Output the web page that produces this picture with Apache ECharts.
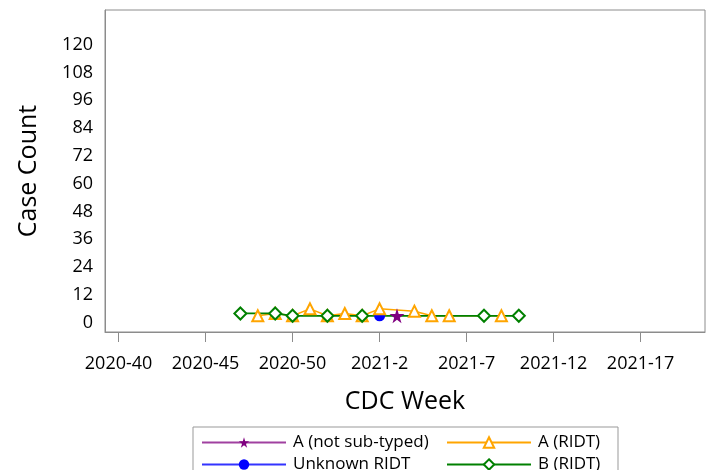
<!DOCTYPE html>
<html><head><meta charset="utf-8">
<script src="https://cdn.jsdelivr.net/npm/echarts@6/dist/echarts.min.js"></script>
<style>html,body{margin:0;padding:0;background:#fff}#c{width:711px;height:470px}</style>
</head><body><div id="c"></div>
<script>
// ---- data ----
const tickLabels = ["2020-40","2020-45","2020-50","2021-2","2021-7","2021-12","2021-17"];
const yTicks = [0,12,24,36,48,60,72,84,96,108,120];

const aNotSubWeeks = ["2021-3"];
const aNotSubCounts = [3];

const unknownWeeks = ["2021-2"];
const unknownCounts = [3];

const aRidtWeeks = ["2020-48","2020-49","2020-50","2020-51","2020-52","2020-53","2021-1","2021-2","2021-4","2021-5","2021-6","2021-9"];
const aRidtCounts = [3,4,3,6,3,4,3,6,5,3,3,3];

const bRidtWeeks = ["2020-47","2020-49","2020-50","2020-52","2021-1","2021-8","2021-10"];
const bRidtCounts = [4,4,3,3,3,3,3];

const seriesNames = ['A (not sub-typed)','Unknown RIDT','A (RIDT)','B (RIDT)'];

// CDC week -> sequential index (2020 has 53 weeks), 2020-40 = 0
function weekIndex(s){
  const p = s.split('-').map(Number);
  return p[0] === 2020 ? p[1] - 40 : (53 - 40) + p[1];
}
function pairs(weeks, counts){ return weeks.map((w,i)=>[weekIndex(w), counts[i]]); }

const FONT = '"Open Sans", "Noto Sans", sans-serif';
const STAR = 'path://M50,0 L61,35 L98,35 L68,57 L79,91 L50,70 L21,91 L32,57 L2,35 L39,35 Z';
const tickVals = tickLabels.map(weekIndex);

const legendPos = [[196,429],[196,451],[441,429],[441,451]];
const legends = seriesNames.map((n,i)=>({
  data:[n], left:legendPos[i][0], top:legendPos[i][1], itemWidth:84, itemHeight:13,
  textStyle:{fontSize:17, color:'#000', fontFamily:FONT, padding:[0,0,0,2]}
}));

const chart = echarts.init(document.getElementById('c'), null, {renderer:'canvas'});
chart.setOption({
  animation:false,
  backgroundColor:'#fff',
  textStyle:{fontFamily:FONT},
  grid:{left:105, right:6, top:10, bottom:138, show:true, borderColor:'#8c8c8c', borderWidth:1, containLabel:false},
  xAxis:{
    type:'value', min:-0.78, max:33.7,
    name:'CDC Week', nameLocation:'middle', nameGap:57,
    nameTextStyle:{fontSize:25, color:'#000', fontFamily:FONT},
    axisLine:{show:true, onZero:false, lineStyle:{color:'#8c8c8c'}},
    axisTick:{show:true, length:10, lineStyle:{color:'#8c8c8c'}, customValues:tickVals},
    axisLabel:{fontSize:18, color:'#000', margin:23, fontFamily:FONT, customValues:tickVals,
      formatter:v=>{ const l = tickLabels.find(t=>weekIndex(t)===v); return l||''; }},
    splitLine:{show:false}
  },
  yAxis:{
    type:'value', min:-4, max:135,
    name:'Case Count', nameLocation:'middle', nameGap:64,
    nameTextStyle:{fontSize:25, color:'#000', fontFamily:FONT},
    axisLine:{show:true, onZero:false, lineStyle:{color:'#8c8c8c'}},
    axisTick:{show:false},
    axisLabel:{fontSize:18, color:'#000', margin:12, fontFamily:FONT, customValues:yTicks},
    splitLine:{show:false}
  },
  graphic:[{type:'rect', shape:{x:193, y:427, width:425, height:60}, style:{fill:'none', stroke:'#999', lineWidth:1}, silent:true}],
  legend:legends,
  series:[
    {name:seriesNames[0], type:'line', data:pairs(aNotSubWeeks,aNotSubCounts), symbol:STAR, symbolSize:15,
     itemStyle:{color:'#800080'}, lineStyle:{color:'#a040a0', width:1.5}},
    {name:seriesNames[1], type:'line', data:pairs(unknownWeeks,unknownCounts), symbol:'circle', symbolSize:11,
     itemStyle:{color:'#0000ff'}, lineStyle:{color:'#3333ff', width:1.5}},
    {name:seriesNames[2], type:'line', data:pairs(aRidtWeeks,aRidtCounts), symbol:'emptyTriangle', symbolSize:11,
     itemStyle:{color:'#ffa500', borderWidth:1.2}, lineStyle:{color:'#ffa500', width:1.5}},
    {name:seriesNames[3], type:'line', data:pairs(bRidtWeeks,bRidtCounts), symbol:'emptyDiamond', symbolSize:12,
     itemStyle:{color:'#008000', borderWidth:1.3}, lineStyle:{color:'#008000', width:1.8}}
  ]
});
</script></body></html>
